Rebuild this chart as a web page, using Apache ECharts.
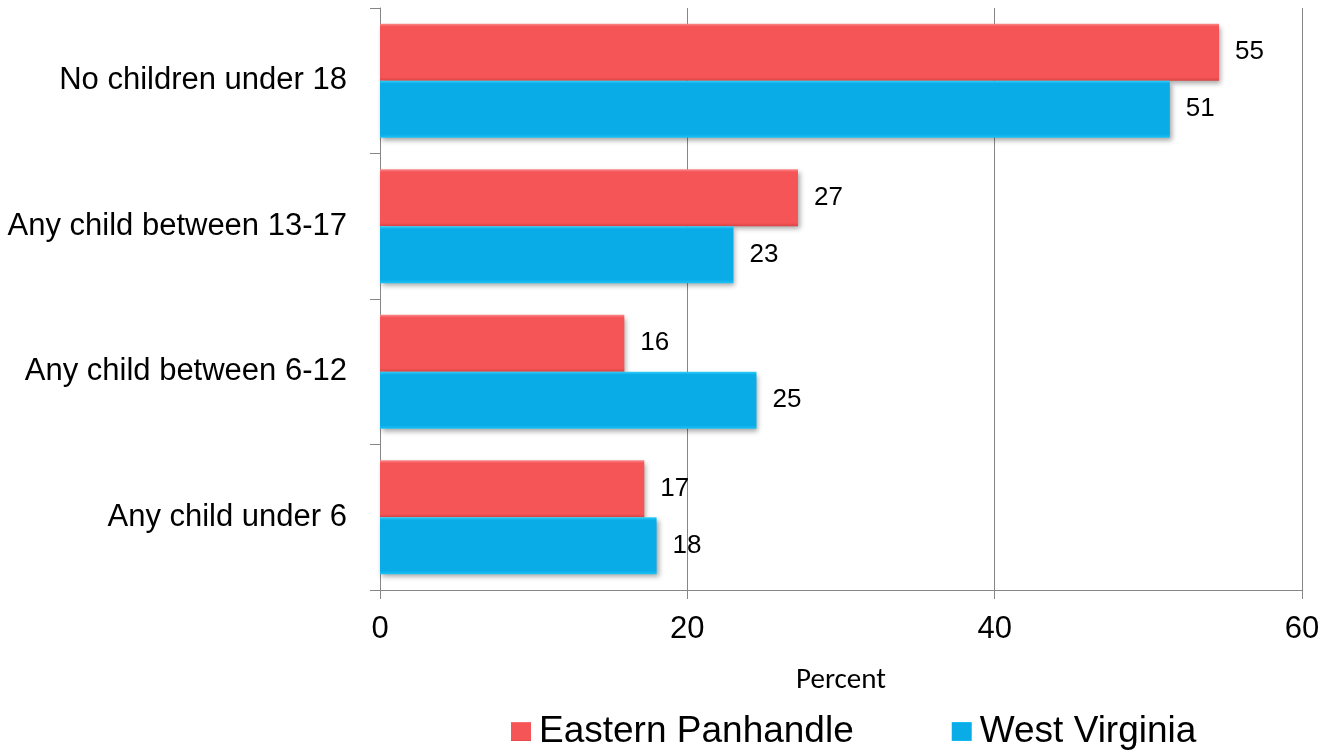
<!DOCTYPE html>
<html>
<head>
<meta charset="utf-8">
<script src="https://cdn.jsdelivr.net/npm/echarts@6/dist/echarts.min.js"></script>
<style>html,body{margin:0;padding:0;background:#fff;}#c{width:1326px;height:752px;}</style>
</head>
<body>
<div id="c"></div>
<script>
const categories = ['No children under 18', 'Any child between 13-17', 'Any child between 6-12', 'Any child under 6'];
const easternPanhandle = [54.6, 27.2, 15.9, 17.2];
const westVirginia = [51.4, 23.0, 24.5, 18.0];
const seriesNames = ['Eastern Panhandle', 'West Virginia'];
const xTicks = { min: 0, max: 60, interval: 20 };

const SANS = "'Liberation Sans', Arial, sans-serif";
const chart = echarts.init(document.getElementById('c'));
function grad(light, base, dark) {
  return new echarts.graphic.LinearGradient(0, 0, 0, 1, [
    { offset: 0, color: light }, { offset: 0.05, color: base },
    { offset: 0.94, color: base }, { offset: 1, color: dark }
  ]);
}
const labelCfg = {
  show: true, position: 'right', distance: 16,
  fontFamily: SANS, fontSize: 26, color: '#000',
  formatter: p => Math.round(p.value)
};
const shadow = { shadowColor: 'rgba(0,0,0,0.35)', shadowBlur: 5, shadowOffsetX: 2, shadowOffsetY: 3 };
chart.setOption({
  animation: false,
  grid: { left: 380, right: 24, top: 8, bottom: 162, containLabel: false, outerBoundsMode: 'none' },
  legend: {
    left: 511, top: 713, padding: 0, itemWidth: 20, itemHeight: 19, itemGap: 98, icon: 'rect',
    textStyle: { fontFamily: SANS, fontSize: 37, color: '#000', padding: [0, 0, 0, 3] },
    data: seriesNames
  },
  xAxis: {
    type: 'value', min: xTicks.min, max: xTicks.max, interval: xTicks.interval,
    name: 'Percent', nameLocation: 'middle', nameGap: 76,
    nameTextStyle: { fontFamily: "Carlito, Lato, sans-serif", fontSize: 29, color: '#000' },
    axisLine: { show: true, lineStyle: { color: '#868686', width: 1 } },
    axisTick: { show: true, length: 9, lineStyle: { color: '#868686' } },
    axisLabel: { fontFamily: SANS, fontSize: 31, color: '#000', margin: 24 },
    splitLine: { show: true, lineStyle: { color: '#868686', width: 1 } }
  },
  yAxis: {
    type: 'category', data: categories, inverse: true,
    axisLine: { show: true, lineStyle: { color: '#868686', width: 1 } },
    axisTick: { show: true, length: 10, lineStyle: { color: '#868686' } },
    axisLabel: { fontFamily: SANS, fontSize: 31, color: '#000', margin: 33 },
    splitLine: { show: false }
  },
  series: [
    {
      name: seriesNames[0], type: 'bar', data: easternPanhandle, barWidth: 57, barGap: '0%',
      itemStyle: Object.assign({ color: grad('#FB8A8B', '#F65557', '#D94446') }, shadow),
      label: labelCfg
    },
    {
      name: seriesNames[1], type: 'bar', data: westVirginia, barWidth: 57, barGap: '0%',
      itemStyle: Object.assign({ color: grad('#2FD0FA', '#0AACE8', '#1BC4F5') }, shadow),
      label: labelCfg
    }
  ]
});
</script>
</body>
</html>
